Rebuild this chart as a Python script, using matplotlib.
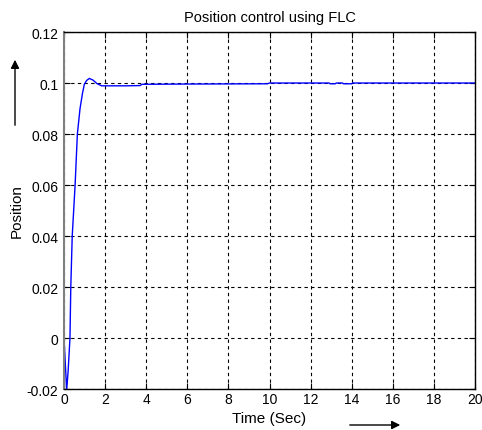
import matplotlib
matplotlib.use("Agg")
import matplotlib.pyplot as plt

plt.rcParams['font.family'] = ['Liberation Sans', 'DejaVu Sans']

# Step response of the FLC position loop (time in seconds, position)
time_s = [0.0, 0.05, 0.13, 0.20, 0.29, 0.33, 0.40, 0.54, 0.65, 0.78, 0.90,
          0.99, 1.10, 1.23, 1.40, 1.60, 1.83, 2.20, 3.00, 3.70, 3.80, 6.00,
          9.90, 10.0, 12.90, 12.95, 13.20, 13.25, 13.55, 13.60, 14.00, 14.05, 20.0]
position = [0.0, -0.008, -0.0205, -0.013, 0.0, 0.02, 0.04, 0.06, 0.08, 0.09, 0.096,
            0.0995, 0.1010, 0.1018, 0.1012, 0.0998, 0.0989, 0.0989, 0.0989, 0.0990, 0.0995, 0.0996,
            0.0997, 0.1000, 0.1000, 0.0997, 0.0997, 0.1000, 0.1000, 0.0997, 0.0997, 0.1000, 0.1000]

x_ticks = [0, 2, 4, 6, 8, 10, 12, 14, 16, 18, 20]
y_ticks = [-0.02, 0, 0.02, 0.04, 0.06, 0.08, 0.1, 0.12]
y_tick_labels = ["-0.02", "0", "0.02", "0.04", "0.06", "0.08", "0.1", "0.12"]

fig = plt.figure(figsize=(4.82, 4.31), dpi=100)
ax = fig.add_axes([0.1328, 0.0951, 0.8527, 0.8283])

ax.plot(time_s, position, color="#0000ff", lw=1.0)

ax.set_xlim(0, 20)
ax.set_ylim(-0.02, 0.12)
ax.set_xticks(x_ticks)
ax.set_yticks(y_ticks)
ax.set_yticklabels(y_tick_labels)
ax.tick_params(direction="in", top=True, right=True, length=4, width=0.8,
               labelsize=10)
ax.tick_params(axis="x", pad=2)
ax.tick_params(axis="y", pad=4)
ax.grid(True, color="black", linestyle=(0, (3, 3)), linewidth=0.8)

for side in ["top", "bottom", "right"]:
    ax.spines[side].set_color("black")
    ax.spines[side].set_linewidth(1.0)
ax.spines["left"].set_color("#808080")
ax.spines["left"].set_linewidth(1.5)

ax.set_title("Position control using FLC", fontsize=10.5, pad=8)
ax.set_xlabel("Time (Sec)", fontsize=11, labelpad=4)
ax.set_ylabel("Position", fontsize=11, labelpad=2)

W, H = 482, 431
# direction arrows beside the axis labels
fig.patches.append(matplotlib.patches.FancyArrowPatch(
    (15 / W, 1 - 129 / H), (15 / W, 1 - 58 / H), transform=fig.transFigure,
    arrowstyle="-|>,head_length=5,head_width=2.5", color="black", lw=1.0))
fig.patches.append(matplotlib.patches.FancyArrowPatch(
    (347 / W, 1 - 426 / H), (403 / W, 1 - 426 / H), transform=fig.transFigure,
    arrowstyle="-|>,head_length=5,head_width=2.5", color="black", lw=1.0))

fig.savefig("out.png", dpi=100)
